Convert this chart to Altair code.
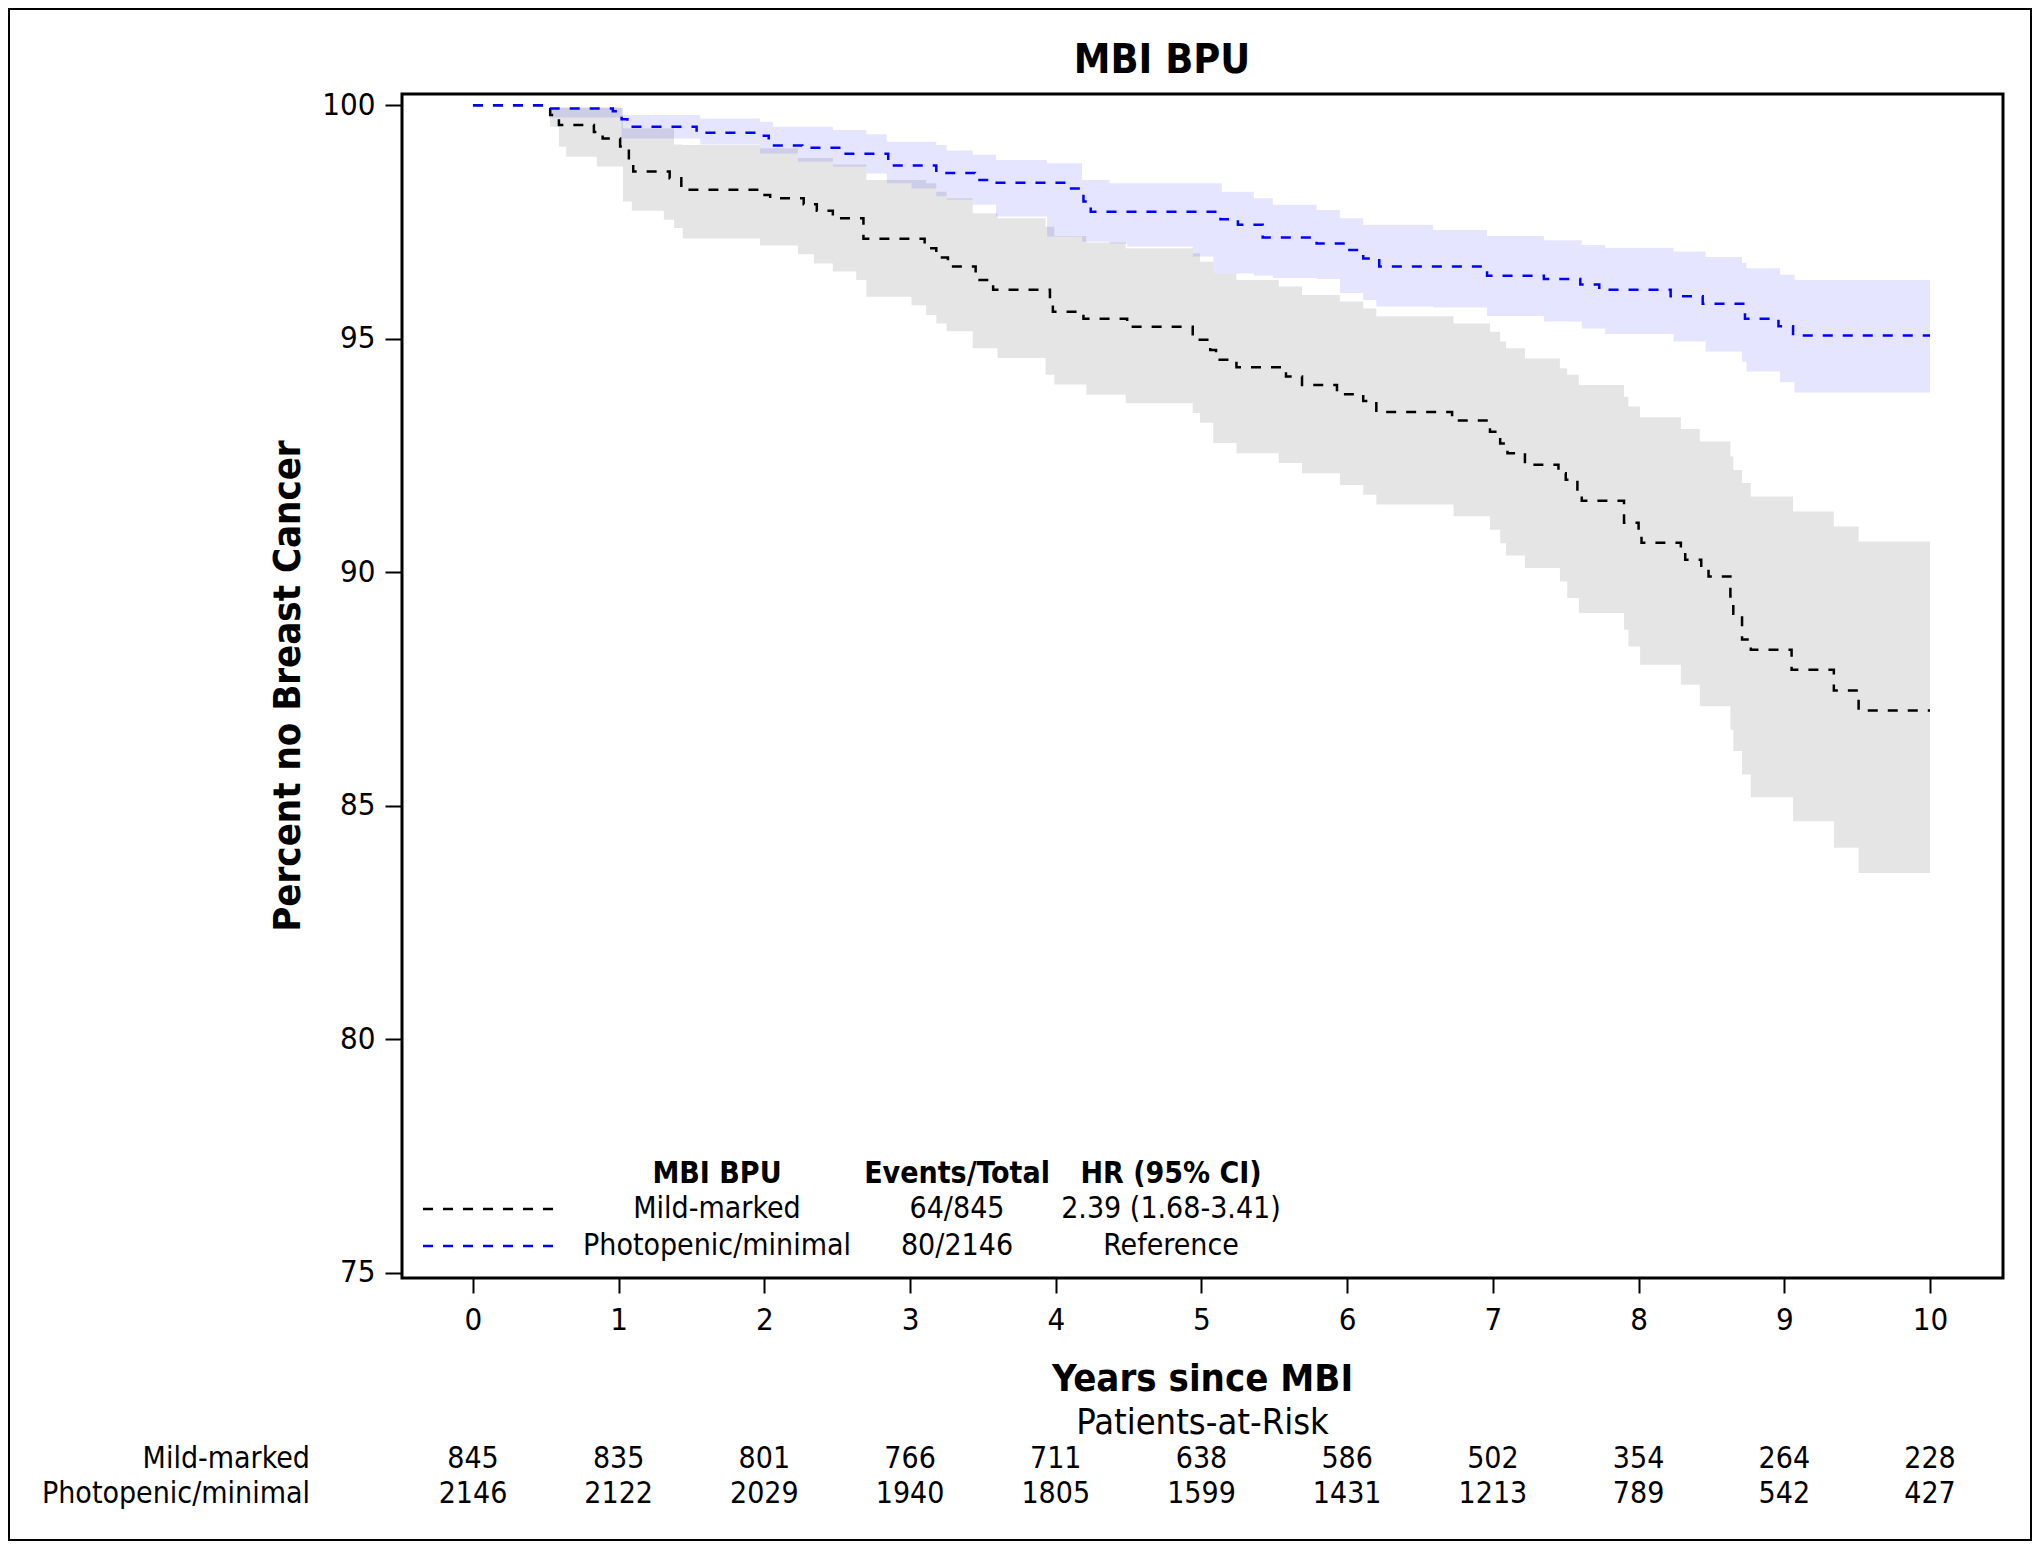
import altair as alt
import pandas as pd

FONT = "DejaVu Sans Condensed, DejaVu Sans"

groups = ["Mild-marked", "Photopenic/minimal"]
line_colors = ["#000000", "#0000FF"]

# Kaplan-Meier step curves (years, percent free of breast cancer)
mild_t = [0, 0.53, 0.59, 0.83, 0.89, 1.01, 1.07, 1.10, 1.35, 1.43, 1.96, 2.04, 2.27, 2.36, 2.47,
          2.68, 3.10, 3.18, 3.26, 3.45, 3.57, 3.96, 3.98, 4.19, 4.49, 4.94, 5.06, 5.10, 5.24,
          5.58, 5.69, 5.93, 6.11, 6.20, 6.72, 6.98, 7.05, 7.10, 7.22, 7.45, 7.50, 7.58, 7.61,
          7.90, 8.00, 8.02, 8.29, 8.32, 8.43, 8.48, 8.63, 8.65, 8.71, 8.77, 9.05, 9.34, 9.51, 10.0]
mild_s = [100, 99.79, 99.58, 99.43, 99.29, 99.12, 98.83, 98.58, 98.44, 98.19, 98.08, 98.01, 97.88,
          97.74, 97.58, 97.14, 96.94, 96.74, 96.55, 96.26, 96.05, 95.76, 95.58, 95.43, 95.26,
          94.98, 94.76, 94.55, 94.39, 94.19, 94.01, 93.81, 93.67, 93.43, 93.25, 93.01, 92.76,
          92.55, 92.30, 92.12, 91.98, 91.77, 91.53, 91.06, 90.91, 90.63, 90.48, 90.27, 90.09,
          89.91, 89.48, 89.11, 88.56, 88.34, 87.91, 87.47, 87.04, 87.04]

photo_t = [0, 0.52, 0.96, 1.02, 1.06, 1.535, 1.93, 2.03, 2.26, 2.54, 2.85, 3.18, 3.445, 3.55,
           4.07, 4.19, 4.24, 5.13, 5.25, 5.42, 5.79, 6.00, 6.11, 6.22, 6.96, 7.35, 7.60, 7.73,
           8.22, 8.44, 8.73, 8.96, 9.06, 10.0]
photo_s = [100, 99.93, 99.87, 99.70, 99.54, 99.41, 99.35, 99.14, 99.09, 98.96, 98.71, 98.55,
           98.40, 98.34, 98.22, 97.94, 97.72, 97.56, 97.44, 97.17, 97.04, 96.90, 96.72, 96.55,
           96.35, 96.28, 96.16, 96.05, 95.91, 95.75, 95.43, 95.27, 95.07, 95.07]

# 95% confidence bands
mild_ci_t = [0, 0.53, 0.59, 0.64, 0.85, 1.03, 1.09, 1.31, 1.38, 1.44, 1.97, 2.23, 2.34, 2.47,
             2.63, 2.70, 3.01, 3.11, 3.18, 3.25, 3.43, 3.60, 3.93, 3.99, 4.21, 4.48, 4.94, 4.99,
             5.08, 5.24, 5.53, 5.69, 5.95, 6.11, 6.20, 6.73, 6.98, 7.05, 7.09, 7.22, 7.46, 7.51,
             7.59, 7.90, 7.93, 8.01, 8.29, 8.42, 8.63, 8.65, 8.71, 8.77, 9.06, 9.34, 9.51, 10.0]
mild_ci_lo = [100, 99.54, 99.11, 98.90, 98.69, 97.94, 97.74, 97.55, 97.37, 97.15, 97.00, 96.81,
              96.61, 96.44, 96.26, 95.90, 95.72, 95.51, 95.33, 95.16, 94.80, 94.59, 94.23, 94.02,
              93.80, 93.62, 93.41, 93.20, 92.77, 92.55, 92.34, 92.12, 91.87, 91.66, 91.45, 91.20,
              90.91, 90.62, 90.36, 90.09, 89.80, 89.45, 89.13, 88.77, 88.41, 88.02, 87.59, 87.13,
              86.63, 86.17, 85.67, 85.18, 84.67, 84.10, 83.56, 83.56]
mild_ci_hi = [100, 99.94, 99.94, 99.94, 99.94, 99.51, 99.51, 99.51, 99.16, 99.15, 99.08, 98.87,
              98.87, 98.73, 98.73, 98.40, 98.40, 98.33, 98.15, 98.01, 97.69, 97.58, 97.40, 97.20,
              97.06, 96.94, 96.83, 96.65, 96.40, 96.26, 96.12, 95.94, 95.80, 95.65, 95.48, 95.33,
              95.15, 94.94, 94.80, 94.58, 94.37, 94.23, 94.01, 93.76, 93.55, 93.32, 93.07, 92.80,
              92.48, 92.19, 91.91, 91.62, 91.30, 90.98, 90.66, 90.66]

photo_ci_t = [0, 0.53, 1.02, 1.56, 1.97, 2.06, 2.23, 2.47, 2.70, 2.84, 3.01, 3.18, 3.25, 3.43,
              3.59, 3.94, 4.18, 4.37, 4.49, 4.94, 5.08, 5.14, 5.36, 5.49, 5.79, 5.95, 6.11, 6.20,
              6.59, 6.96, 7.35, 7.61, 7.77, 8.24, 8.46, 8.71, 8.74, 8.97, 9.07, 10.0]
photo_ci_lo = [100, 99.74, 99.29, 99.16, 98.97, 98.97, 98.79, 98.69, 98.54, 98.33, 98.22, 98.05,
               97.98, 97.87, 97.62, 97.19, 97.08, 97.04, 96.97, 96.76, 96.40, 96.40, 96.35,
               96.30, 96.28, 95.98, 95.83, 95.69, 95.67, 95.49, 95.37, 95.22, 95.10, 94.94,
               94.73, 94.51, 94.30, 94.07, 93.85, 93.85]
photo_ci_hi = [100, 99.96, 99.79, 99.72, 99.65, 99.54, 99.54, 99.47, 99.38, 99.22, 99.22, 99.15,
               99.03, 98.94, 98.83, 98.76, 98.40, 98.33, 98.33, 98.33, 98.33, 98.15, 98.01,
               97.87, 97.76, 97.58, 97.44, 97.44, 97.33, 97.20, 97.11, 97.01, 96.95, 96.87,
               96.75, 96.63, 96.51, 96.37, 96.26, 96.26]

# Patients at risk
risk_years = list(range(11))
risk_mild = [845, 835, 801, 766, 711, 638, 586, 502, 354, 264, 228]
risk_photo = [2146, 2122, 2029, 1940, 1805, 1599, 1431, 1213, 789, 542, 427]

# Legend table
legend_headers = ["MBI BPU", "Events/Total", "HR (95% CI)"]
legend_events = ["64/845", "80/2146"]
legend_hr = ["2.39 (1.68-3.41)", "Reference"]

y_ticks = [75, 80, 85, 90, 95, 100]
x_ticks = list(range(11))

# ---------------------------------------------------------------- tables
df_lines = pd.concat([
    pd.DataFrame({"t": mild_t, "v": mild_s, "group": groups[0]}),
    pd.DataFrame({"t": photo_t, "v": photo_s, "group": groups[1]}),
])
df_ci = pd.concat([
    pd.DataFrame({"t": mild_ci_t, "lo": mild_ci_lo, "hi": mild_ci_hi, "group": groups[0]}),
    pd.DataFrame({"t": photo_ci_t, "lo": photo_ci_lo, "hi": photo_ci_hi, "group": groups[1]}),
])
df_risk_mild = pd.DataFrame({"year": risk_years, "n": [str(v) for v in risk_mild]})
df_risk_photo = pd.DataFrame({"year": risk_years, "n": [str(v) for v in risk_photo]})

# ---------------------------------------------------------------- geometry
W, H = 1601, 1184
PAD = {"left": 394, "top": 86, "right": 29, "bottom": 264}

xs = alt.Scale(domain=[-0.487, 10.501], nice=False, zero=False)
ys = alt.Scale(domain=[74.887, 100.242], nice=False, zero=False)
cs = alt.Scale(domain=groups, range=line_colors)

x_axis = alt.Axis(values=x_ticks, title=None, grid=False, domain=False, tickSize=15,
                  tickWidth=2, tickColor="black", labelFont=FONT, labelFontSize=31,
                  labelColor="black", labelPadding=12, format="d", labelFlush=False)
y_axis = alt.Axis(values=y_ticks, title=None, grid=False, domain=False, tickSize=17,
                  tickWidth=2, tickColor="black", labelFont=FONT, labelFontSize=31,
                  labelColor="black", labelPadding=10, format="d")

bands = alt.Chart(df_ci).mark_area(interpolate="step-after", fillOpacity=0.1).encode(
    x=alt.X("t:Q", scale=xs, axis=x_axis),
    y=alt.Y("lo:Q", scale=ys, axis=y_axis),
    y2="hi:Q",
    color=alt.Color("group:N", scale=cs, legend=None),
)

lines = alt.Chart(df_lines).mark_line(interpolate="step-after", strokeDash=[10, 10],
                                      strokeWidth=2.5).encode(
    x=alt.X("t:Q", scale=xs, axis=x_axis),
    y=alt.Y("v:Q", scale=ys, axis=y_axis),
    color=alt.Color("group:N", scale=cs, legend=None),
)


def label(txt, x, y, size, bold=False, align="center", angle=None):
    kw = dict(font=FONT, fontSize=size, fontWeight="bold" if bold else "normal",
              align=align, baseline="middle", color="black")
    if angle is not None:
        kw["angle"] = angle
    return alt.Chart(pd.DataFrame({"s": [txt]})).mark_text(**kw).encode(
        text="s:N", x=alt.value(x), y=alt.value(y))


title = label("MBI BPU", 760, -33, 41, bold=True)
y_title = label("Percent no Breast Cancer", -113, H / 2, 38, bold=True, angle=270)
x_title = label("Years since MBI", W / 2, 1286, 38, bold=True)
par_title = label("Patients-at-Risk", W / 2, 1329, 36)

ROW1, ROW2 = 1365, 1400
risk_lab1 = label(groups[0], -92, ROW1, 30, align="right")
risk_lab2 = label(groups[1], -92, ROW2, 30, align="right")

risk1 = alt.Chart(df_risk_mild).mark_text(font=FONT, fontSize=30, baseline="middle",
                                          color="black").encode(
    x=alt.X("year:Q", scale=xs, axis=x_axis), y=alt.value(ROW1), text="n:N")
risk2 = alt.Chart(df_risk_photo).mark_text(font=FONT, fontSize=30, baseline="middle",
                                           color="black").encode(
    x=alt.X("year:Q", scale=xs, axis=x_axis), y=alt.value(ROW2), text="n:N")

# legend table inside the plot
COLS = [315, 555, 769]
LH, LR1, LR2 = 1080, 1115, 1152
leg = [label(h, c, LH, 30, bold=True) for h, c in zip(legend_headers, COLS)]
leg += [label(groups[0], COLS[0], LR1, 30), label(legend_events[0], COLS[1], LR1, 30),
        label(legend_hr[0], COLS[2], LR1, 30),
        label(groups[1], COLS[0], LR2, 30), label(legend_events[1], COLS[1], LR2, 30),
        label(legend_hr[1], COLS[2], LR2, 30)]

one = pd.DataFrame({"a": [0]})
leg_line1 = alt.Chart(one).mark_rule(strokeDash=[10, 10], strokeWidth=2.5,
                                     color=line_colors[0]).encode(
    x=alt.value(21), x2=alt.value(151), y=alt.value(LR1))
leg_line2 = alt.Chart(one).mark_rule(strokeDash=[10, 10], strokeWidth=2.5,
                                     color=line_colors[1]).encode(
    x=alt.value(21), x2=alt.value(151), y=alt.value(LR2))

border = alt.Chart(one).mark_rect(fillOpacity=0, stroke="black", strokeWidth=2).encode(
    x=alt.value(-PAD["left"] + 1), x2=alt.value(W + PAD["right"] - 1),
    y=alt.value(-PAD["top"] + 1), y2=alt.value(H + PAD["bottom"] - 2))

chart = alt.layer(
    bands, lines, title, y_title, x_title, par_title, risk_lab1, risk_lab2, risk1, risk2,
    *leg, leg_line1, leg_line2, border
).properties(
    width=W, height=H, padding=PAD,
    autosize=alt.AutoSizeParams(type="none"),
    background="white",
).configure_view(stroke="black", strokeWidth=3)

chart.save("out.html", embed_options={"renderer": "svg", "actions": False})
